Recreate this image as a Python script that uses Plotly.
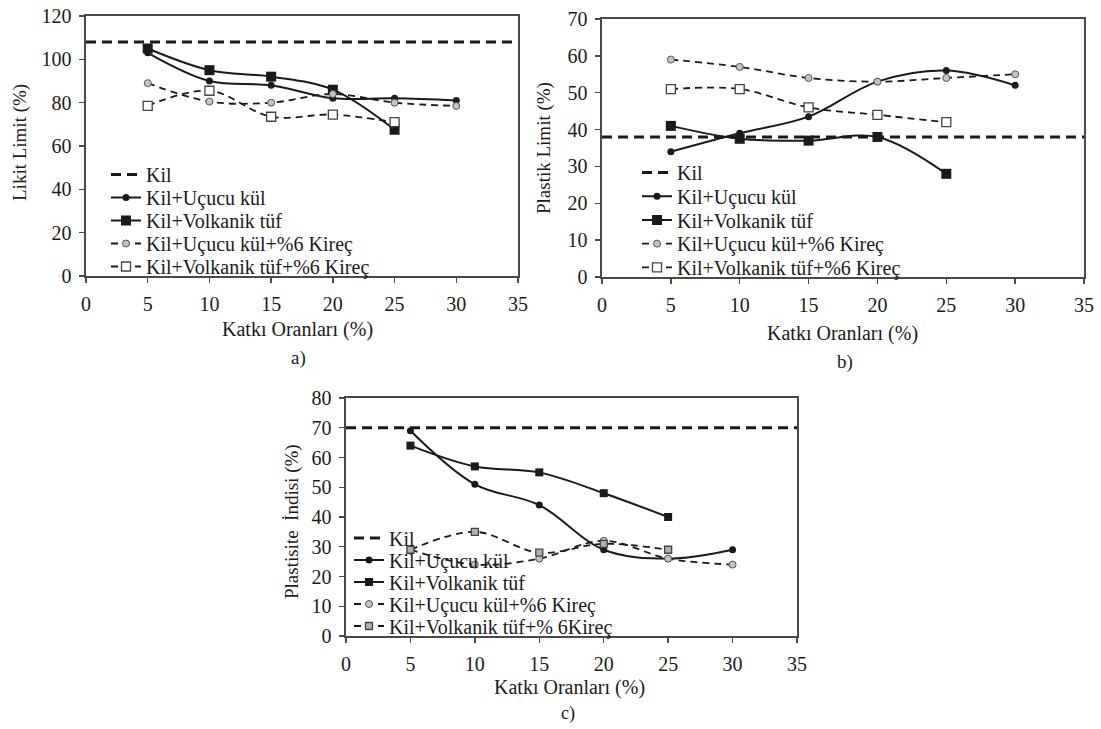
import plotly.graph_objects as go

W, H = 1101, 729

katki = [5, 10, 15, 20, 25, 30]
katki_vt = [5, 10, 15, 20, 25]
kil_x = [0, 35]

# a) Likit Limit
ll_kil = 108
ll_uk = [103, 90, 88, 82, 82, 81]
ll_vt = [105, 95, 92, 86, 67.5]
ll_uk_k = [89, 80.5, 80, 84, 80, 78.5]
ll_vt_k = [78.5, 85.5, 73.5, 74.5, 71]

# b) Plastik Limit
pl_kil = 38
pl_uk = [34, 39, 43.5, 53, 56, 52]
pl_vt = [41, 37.5, 37, 38, 28]
pl_uk_k = [59, 57, 54, 53, 54, 55]
pl_vt_k = [51, 51, 46, 44, 42]

# c) Plastisite Indisi
pi_kil = 70
pi_uk = [69, 51, 44, 29, 26, 29]
pi_vt = [64, 57, 55, 48, 40]
pi_uk_k = [29, 24, 26, 32, 26, 24]
pi_vt_k = [29, 35, 28, 31, 29]

names_ab = ["Kil", "Kil+Uçucu kül", "Kil+Volkanik tüf",
            "Kil+Uçucu kül+%6 Kireç", "Kil+Volkanik tüf+%6 Kireç"]
names_c = ["Kil", "Kil+Uçucu kül", "Kil+Volkanik tüf",
           "Kil+Uçucu kül+%6 Kireç", "Kil+Volkanik tüf+% 6Kireç"]

FONT = "Liberation Serif"
INK = "#1a1a1a"
FRAME = "#4a4a4a"

# pixel boxes of plot areas (left, top, right, bottom)
boxes = {
    "a": (86, 16, 518, 276),
    "b": (602, 19, 1084, 277),
    "c": (346, 398, 797, 636),
}

def px(x):
    return x / W

def py(y):
    return 1 - y / H

fig = go.Figure()

# legend layout per panel: (x of legend box, first row y, row step)
leg_pos = {"a": (106, 174.5, 23.0), "b": (637, 172.5, 23.7), "c": (349, 538, 22.0)}

legend_layouts = {}
leg_counter = [0]

def next_legend():
    leg_counter[0] += 1
    return "legend" if leg_counter[0] == 1 else f"legend{leg_counter[0]}"

def add_panel(key, idx, kil, uk, vt, ukk, vtk, names, small=False):
    xa = "x" if idx == 1 else f"x{idx}"
    ya = "y" if idx == 1 else f"y{idx}"
    lx, ly0, step = leg_pos[key]
    sq = 8 if small else 10
    vtk_size = 7 if small else 9
    specs = [
        dict(x=kil_x, y=[kil, kil], mode="lines",
             line=dict(color=INK, width=3, dash="10px,6px")),
        dict(x=katki, y=uk, mode="lines+markers",
             line=dict(color=INK, width=2, shape="spline", smoothing=1),
             marker=dict(symbol="circle", size=7, color=INK)),
        dict(x=katki_vt, y=vt, mode="lines+markers",
             line=dict(color=INK, width=2, shape="spline", smoothing=1),
             marker=dict(symbol="square", size=sq, color=INK)),
        dict(x=katki, y=ukk, mode="lines+markers",
             line=dict(color=INK, width=1.8, dash="7px,5px", shape="spline", smoothing=1),
             marker=dict(symbol="circle", size=7, color="#c4c4c4",
                         line=dict(color="#555555", width=1))),
        dict(x=katki_vt, y=vtk, mode="lines+markers",
             line=dict(color=INK, width=1.8, dash="7px,5px", shape="spline", smoothing=1),
             marker=dict(symbol="square", size=vtk_size,
                         color="#b0b0b0" if small else "white",
                         line=dict(color="#444444", width=1.3))),
    ]
    for i, (spec, name) in enumerate(zip(specs, names)):
        lg = next_legend()
        fig.add_trace(go.Scatter(name=name, xaxis=xa, yaxis=ya, legend=lg, **spec))
        legend_layouts[lg] = dict(
            x=px(lx), y=py(ly0 + i * step), xanchor="left", yanchor="middle",
            bgcolor="rgba(0,0,0,0)", borderwidth=0, itemwidth=30,
            font=dict(family=FONT, size=20, color=INK),
        )

add_panel("a", 1, ll_kil, ll_uk, ll_vt, ll_uk_k, ll_vt_k, names_ab)
add_panel("b", 2, pl_kil, pl_uk, pl_vt, pl_uk_k, pl_vt_k, names_ab)
add_panel("c", 3, pi_kil, pi_uk, pi_vt, pi_uk_k, pi_vt_k, names_c, small=True)

axis_common = dict(showline=True, linecolor=FRAME, linewidth=1.6, mirror=True,
                   ticks="outside", ticklen=5, tickwidth=1.4, tickcolor=FRAME,
                   showgrid=False, zeroline=False, automargin=False,
                   ticklabelstandoff=4,
                   tickfont=dict(family=FONT, size=20, color=INK))

layout = dict(
    width=W, height=H, margin=dict(l=0, r=0, t=0, b=0, autoexpand=False),
    paper_bgcolor="white", plot_bgcolor="white",
    font=dict(family=FONT, color=INK, size=20),
    showlegend=True, hovermode=False,
)

panels = [("a", 1, [0, 120], 20), ("b", 2, [0, 70], 10), ("c", 3, [0, 80], 10)]
for key, idx, yr, dy in panels:
    l, t, r, b = boxes[key]
    sfx = "" if idx == 1 else str(idx)
    layout["xaxis" + sfx] = dict(domain=[px(l), px(r)], range=[0, 35], dtick=5,
                                 anchor="y" + sfx, **axis_common)
    layout["yaxis" + sfx] = dict(domain=[py(b), py(t)], range=yr, dtick=dy,
                                 anchor="x" + sfx, **axis_common)

layout.update(legend_layouts)

def ann(text, x, y, size=20, angle=0):
    return dict(text=text, x=px(x), y=py(y), xref="paper", yref="paper",
                showarrow=False, textangle=angle, xanchor="center", yanchor="middle",
                font=dict(family=FONT, size=size, color=INK))

layout["annotations"] = [
    ann("Katkı Oranları (%)", 297, 329),
    ann("Katkı Oranları (%)", 842, 333),
    ann("Katkı Oranları (%)", 569, 687),
    ann("Likit Limit (%)", 20, 143, size=19, angle=-90),
    ann("Plastik Limit (%)", 544, 148, size=19, angle=-90),
    ann("Plastisite  İndisi (%)", 292, 522, size=19, angle=-90),
    ann("a)", 298, 358, size=19),
    ann("b)", 845, 362, size=19),
    ann("c)", 568, 713, size=18),
]

fig.update_layout(**layout)
fig.write_html(
    "out.html",
    config={"displayModeBar": False, "staticPlot": True},
    post_script="document.body.style.margin='0px';document.body.style.overflow='hidden';",
)
